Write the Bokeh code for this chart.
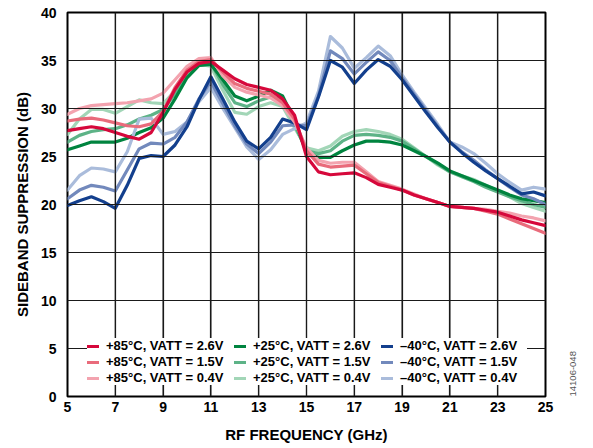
import math
from bokeh.plotting import figure
from bokeh.models import Legend, LegendItem, FixedTicker, Range1d, LinearAxis, Span
from bokeh.embed import file_html
from bokeh.resources import INLINE

freq = [5.0, 5.5, 6.0, 6.5, 7.0, 7.5, 8.0, 8.5, 9.0, 9.5,
        10.0, 10.5, 11.0, 11.5, 12.0, 12.5, 13.0, 13.5, 14.0, 14.5,
        15.0, 15.5, 16.0, 16.5, 17.0, 17.5, 18.0, 18.5, 19.0, 19.5,
        20.0, 20.5, 21.0, 21.5, 22.0, 22.5, 23.0, 23.5, 24.0, 24.5, 25.0]

p85_26 = [27.7, 27.9, 28.1, 27.9, 27.5, 27.1, 26.8, 27.5, 29.6, 32.0,
          33.8, 34.7, 34.9, 34.0, 33.1, 32.5, 32.2, 31.9, 31.0, 29.3,
          25.0, 23.4, 23.1, 23.2, 23.3, 22.8, 22.1, 21.8, 21.5, 21.0,
          20.6, 20.2, 19.8, 19.7, 19.6, 19.4, 19.2, 18.8, 18.4, 18.1, 17.8]
p85_15 = [28.7, 28.9, 29.0, 28.8, 28.5, 28.2, 28.1, 28.4, 29.7, 32.2,
          34.0, 34.9, 35.1, 33.8, 32.6, 32.1, 31.8, 31.5, 30.6, 28.9,
          25.6, 24.2, 23.9, 24.0, 24.1, 23.2, 22.3, 21.9, 21.5, 21.0,
          20.6, 20.2, 19.8, 19.7, 19.6, 19.3, 19.0, 18.5, 18.0, 17.5, 17.0]
p85_04 = [29.4, 30.0, 30.3, 30.4, 30.5, 30.6, 30.8, 31.0, 31.6, 33.0,
          34.4, 35.2, 35.3, 33.4, 32.2, 31.7, 31.4, 31.1, 30.3, 28.6,
          25.9, 24.6, 24.3, 24.4, 24.4, 23.4, 22.4, 22.0, 21.6, 21.1,
          20.6, 20.2, 19.8, 19.7, 19.6, 19.5, 19.3, 19.1, 18.8, 18.6, 18.3]
p25_26 = [25.7, 26.1, 26.5, 26.5, 26.5, 26.9, 27.5, 28.0, 29.0, 31.0,
          33.2, 34.5, 34.6, 33.0, 31.3, 30.8, 31.3, 31.9, 31.3, 28.8,
          25.4, 24.9, 24.9, 25.6, 26.2, 26.6, 26.6, 26.5, 26.2, 25.6,
          25.0, 24.3, 23.5, 23.0, 22.5, 22.0, 21.5, 21.0, 20.6, 20.4, 20.2]
p25_15 = [26.5, 27.2, 27.6, 27.8, 27.9, 28.3, 28.9, 29.3, 29.9, 31.5,
          33.3, 34.5, 34.7, 32.5, 30.6, 30.2, 30.8, 31.2, 30.9, 28.3,
          25.6, 25.3, 25.6, 26.6, 27.2, 27.3, 27.2, 27.0, 26.6, 25.8,
          25.0, 24.2, 23.4, 22.9, 22.4, 21.8, 21.3, 20.8, 20.4, 20.0, 19.7]
p25_04 = [27.3, 28.9, 29.9, 29.9, 29.5, 30.2, 30.9, 30.6, 30.5, 31.8,
          33.5, 34.6, 34.4, 31.9, 29.6, 29.4, 30.2, 30.6, 30.2, 28.0,
          25.9, 25.6, 26.1, 27.1, 27.6, 27.8, 27.6, 27.3, 26.8, 25.9,
          25.0, 24.1, 23.4, 23.0, 22.6, 22.0, 21.4, 20.8, 20.1, 19.7, 19.3]
m40_26 = [19.9, 20.4, 20.8, 20.3, 19.6, 22.0, 24.8, 25.1, 25.0, 26.2,
          28.1, 30.9, 33.3, 31.0, 28.6, 26.6, 25.8, 27.0, 28.9, 28.5,
          27.8, 31.2, 35.0, 34.3, 32.6, 34.0, 35.1, 34.4, 33.0, 31.3,
          29.6, 28.0, 26.5, 25.4, 24.4, 23.5, 22.7, 21.9, 21.1, 21.3, 20.9]
m40_15 = [20.6, 21.5, 22.0, 21.8, 21.4, 23.6, 25.8, 26.4, 26.3, 27.0,
          28.6, 31.0, 32.8, 30.5, 28.2, 26.3, 25.3, 26.5, 28.2, 28.3,
          28.2, 31.3, 36.0, 35.2, 33.6, 34.8, 35.9, 35.0, 33.2, 31.5,
          29.8, 28.1, 26.5, 25.5, 24.6, 23.6, 22.7, 21.8, 21.0, 20.6, 20.0]
m40_04 = [21.5, 23.0, 23.8, 23.7, 23.4, 25.5, 28.9, 29.0, 27.3, 27.6,
          28.6, 30.7, 32.2, 30.0, 28.0, 26.0, 24.7, 25.7, 27.3, 27.9,
          28.5, 31.8, 37.5, 36.3, 34.2, 35.3, 36.5, 35.5, 33.5, 31.7,
          30.0, 28.3, 26.5, 26.0, 25.3, 24.3, 23.2, 22.3, 21.5, 21.8, 21.6]

labels = ["+85°C, VATT = 2.6V", "+85°C, VATT = 1.5V", "+85°C, VATT = 0.4V",
          "+25°C, VATT = 2.6V", "+25°C, VATT = 1.5V", "+25°C, VATT = 0.4V",
          "\u201340°C, VATT = 2.6V", "\u201340°C, VATT = 1.5V", "\u201340°C, VATT = 0.4V"]
series = [p85_26, p85_15, p85_04, p25_26, p25_15, p25_04, m40_26, m40_15, m40_04]
colors = ["#D6083B", "#E96B7B", "#F3A3AF",
          "#00843F", "#5DB387", "#A2D6B7",
          "#133F8D", "#7289BC", "#AABCDB"]
draw_order = [5, 4, 3, 8, 7, 6, 2, 1, 0]

x_ticks = [5, 7, 9, 11, 13, 15, 17, 19, 21, 23, 25]
y_ticks = [0, 5, 10, 15, 20, 25, 30, 35, 40]
fig_id = "14106-048"

FONT = "Liberation Sans"

p = figure(width=593, height=448, output_backend="svg", toolbar_location=None,
           x_range=Range1d(x_ticks[0], x_ticks[-1]), y_range=Range1d(y_ticks[0], y_ticks[-1]),
           min_border_left=67, min_border_right=48, min_border_top=12, min_border_bottom=52,
           background_fill_color="white", border_fill_color="white")

p.xaxis.ticker = FixedTicker(ticks=x_ticks)
p.yaxis.ticker = FixedTicker(ticks=y_ticks)
p.grid.grid_line_color = "#1a1a1a"
p.grid.grid_line_width = 1.2

renderers = {}
for i in draw_order:
    r = p.line(freq, series[i], line_color=colors[i], line_width=3.2,
               line_join="round", line_cap="round")
    renderers[i] = r

p.outline_line_color = "black"
p.outline_line_width = 2

for ax in (p.xaxis[0], p.yaxis[0]):
    ax.axis_line_color = None
    ax.major_tick_line_color = None
    ax.minor_tick_line_color = None
    ax.major_tick_out = 0
    ax.major_tick_in = 0
    ax.minor_tick_out = 0
    ax.minor_tick_in = 0
    ax.major_label_text_font = FONT
    ax.major_label_text_font_style = "bold"
    ax.major_label_text_font_size = "14px"
    ax.major_label_text_color = "black"
    ax.axis_label_text_font = FONT
    ax.axis_label_text_font_style = "bold"
    ax.axis_label_text_font_size = "15px"
    ax.axis_label_text_color = "black"

p.xaxis[0].axis_label = "RF FREQUENCY (GHz)"
p.yaxis[0].axis_label = "SIDEBAND SUPPRESSION (dB)"
p.xaxis[0].major_label_standoff = 5
p.xaxis[0].axis_label_standoff = 11
p.yaxis[0].major_label_standoff = 11
p.yaxis[0].axis_label_standoff = 7

# grid lines as spans at the tick positions
for t in x_ticks[1:-1]:
    p.add_layout(Span(location=t, dimension="height", line_color="#1a1a1a", line_width=1.2))
for t in y_ticks[1:-1]:
    p.add_layout(Span(location=t, dimension="width", line_color="#1a1a1a", line_width=1.2))

items = [LegendItem(label=labels[i], renderers=[renderers[i]]) for i in range(9)]
legend = Legend(items=items, ncols=3, orientation="vertical", location=(20, 11),
                label_text_font=FONT, label_text_font_style="bold",
                label_text_font_size="13px", label_text_color="black",
                glyph_width=12, glyph_height=12, label_height=12, label_width=127,
                label_standoff=7, spacing=1, padding=6, margin=0,
                background_fill_color="white", background_fill_alpha=1.0,
                border_line_color=None)
p.add_layout(legend)

# figure id printed vertically at the lower right, as a label of a bare right axis
rax = LinearAxis(ticker=FixedTicker(ticks=[y_ticks[0]]),
                 major_label_overrides={y_ticks[0]: fig_id},
                 major_label_orientation=math.pi / 2,
                 major_label_standoff=27,
                 major_label_text_font=FONT, major_label_text_font_size="9.5px",
                 major_label_text_color="#555555",
                 axis_line_color=None, major_tick_line_color=None,
                 minor_tick_line_color=None, major_tick_out=0, major_tick_in=0,
                 minor_tick_out=0, minor_tick_in=0)
p.add_layout(rax, "right")

open("out.html", "w").write(file_html(p, INLINE))
